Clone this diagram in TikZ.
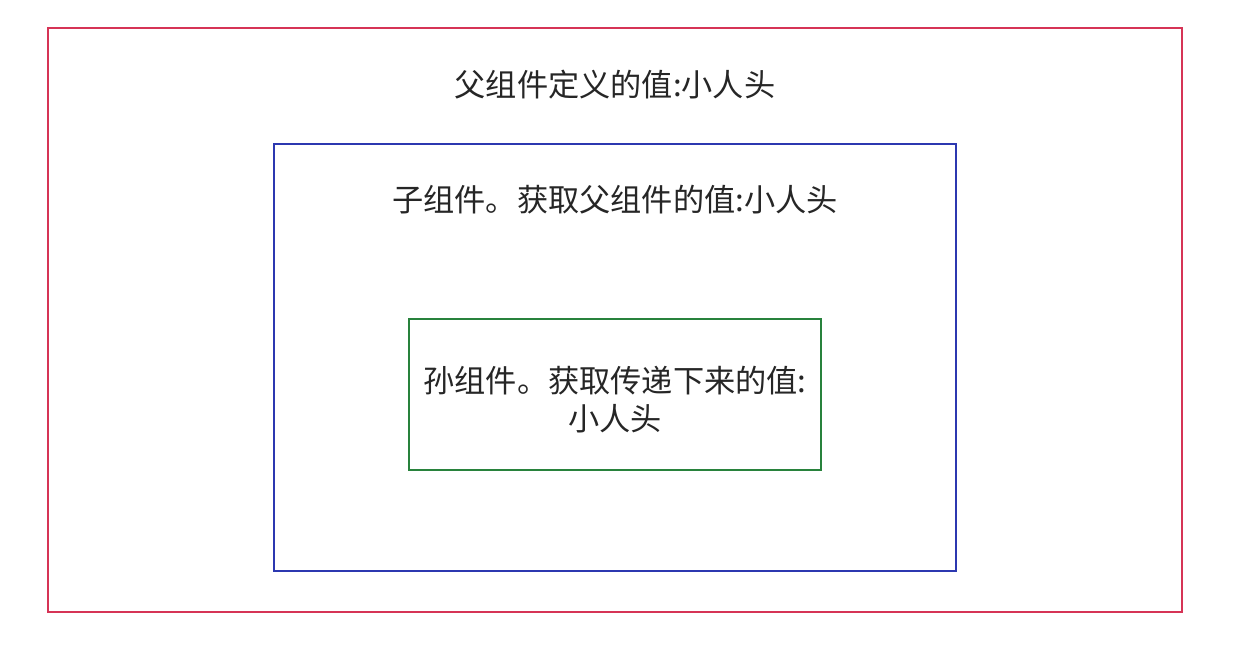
\documentclass[tikz,border=0pt]{standalone}
\usepackage{fontspec}
\newfontfamily\cjk{Noto Sans CJK SC}
\definecolor{outerred}{RGB}{214,52,86}
\definecolor{midblue}{RGB}{44,56,176}
\definecolor{innergreen}{RGB}{40,130,60}
\tikzset{
  box/.style={line width=1.6pt},
  lbl/.style={font=\cjk\fontsize{31.2}{37}\selectfont, text=black!85, inner sep=0pt, align=center}
}
\begin{document}
\begin{tikzpicture}[x=1pt,y=-1pt]
\useasboundingbox (0,0) rectangle (1238,650);
\fill[white] (0,0) rectangle (1238,650);
\draw[box, outerred] (48,28) rectangle (1182,612);
\draw[box, midblue] (274,144) rectangle (956,571);
\draw[box, innergreen] (409,319) rectangle (821,470);
\node[lbl] (outertext) at (615,85) {父组件定义的值:小人头};
\node[lbl] (midtext) at (615,200) {子组件。获取父组件的值:小人头};
\node[lbl, text width=420pt, font=\cjk\fontsize{31.2}{38}\selectfont] (innertext) at (615,400) {孙组件。获取传递下来的值:\\小人头};
\end{tikzpicture}
\end{document}
